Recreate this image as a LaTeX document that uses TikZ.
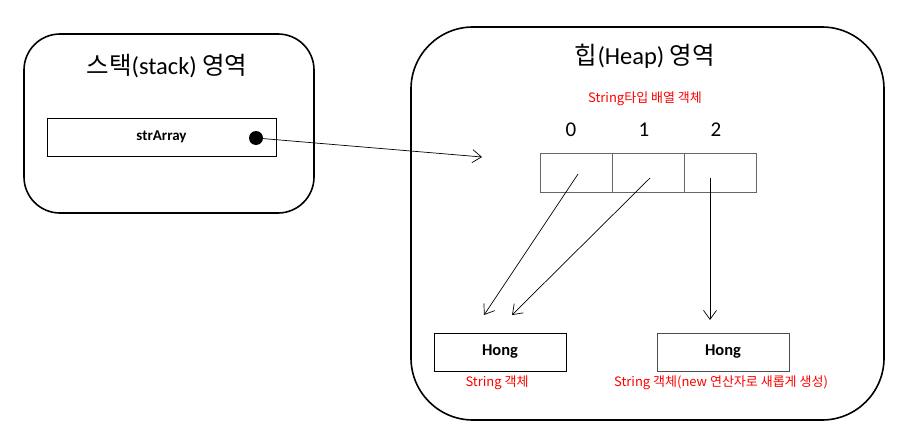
\documentclass[tikz,border=0pt]{standalone}
\usepackage{fontspec}
\setmainfont{Carlito}
\newfontfamily\kr{Noto Sans CJK KR}
\usetikzlibrary{arrows.meta}
\begin{document}
\begin{tikzpicture}[x=1pt,y=-1pt,
  region/.style={draw,line width=1.6pt},
  cellbox/.style={draw=black!60,line width=1pt,minimum width=72pt,minimum height=39pt,inner sep=0pt},
  valbox/.style={draw,line width=0.9pt,minimum width=132pt,minimum height=38pt,inner sep=0pt,font=\fontsize{16.5}{19}\selectfont\bfseries},
  redlbl/.style={text=red,font=\kr\fontsize{13}{15}\selectfont,inner sep=0pt},
  idx/.style={font=\fontsize{21}{24}\selectfont,inner sep=0pt},
  ptr/.style={-{Straight Barb[length=9pt,width=13pt]},line width=0.7pt}]
\useasboundingbox (0,0) rectangle (907,444);
% regions
\draw[region,rounded corners=36pt] (24,34) rectangle (314,213);
\draw[region,rounded corners=62pt] (411,27) rectangle (884,420);
\node[inner sep=0pt,font=\fontsize{24.5}{28}\selectfont] (stitle) at (167,66) {{\kr 스택}(stack) {\kr 영역}};
\node[inner sep=0pt,font=\fontsize{24.5}{28}\selectfont] (htitle) at (645,56) {{\kr 힙}(Heap) {\kr 영역}};
% stack variable
\node[draw,line width=0.9pt,minimum width=229pt,minimum height=38pt,inner sep=0pt,font=\fontsize{15}{17}\selectfont\bfseries] (var) at (161.5,137) {strArray};
\fill (256,138) circle (7pt) coordinate (dot);
\coordinate (arrtgt) at (482,157);
\draw[ptr] (dot) -- (arrtgt);
% array
\node[redlbl] (arrlbl) at (645,99) {String타입 배열 객체};
\node[cellbox] (c0) at (576,172.5) {};
\node[cellbox] (c1) at (648,172.5) {};
\node[cellbox] (c2) at (720,172.5) {};
\node[idx] (i0) at (571,130) {0};
\node[idx] (i1) at (644,130) {1};
\node[idx] (i2) at (716,130) {2};
% strings
\node[valbox] (h1) at (500,352) {Hong};
\node[valbox,draw=black!70] (h2) at (723,352) {Hong};
\node[redlbl] (l1) at (497,383) {String 객체};
\node[redlbl] (l2) at (721,383) {String 객체(new 연산자로 새롭게 생성)};
% pointers
\coordinate (p0) at (578,174);
\coordinate (p1) at (650,178);
\coordinate (p2) at (710,178);
\coordinate (t0) at (484,315);
\coordinate (t1) at (512,315);
\coordinate (t2) at (710,320);
\draw[ptr] (p0) -- (t0);
\draw[ptr] (p1) -- (t1);
\draw[ptr] (p2) -- (t2);
\end{tikzpicture}
\end{document}
